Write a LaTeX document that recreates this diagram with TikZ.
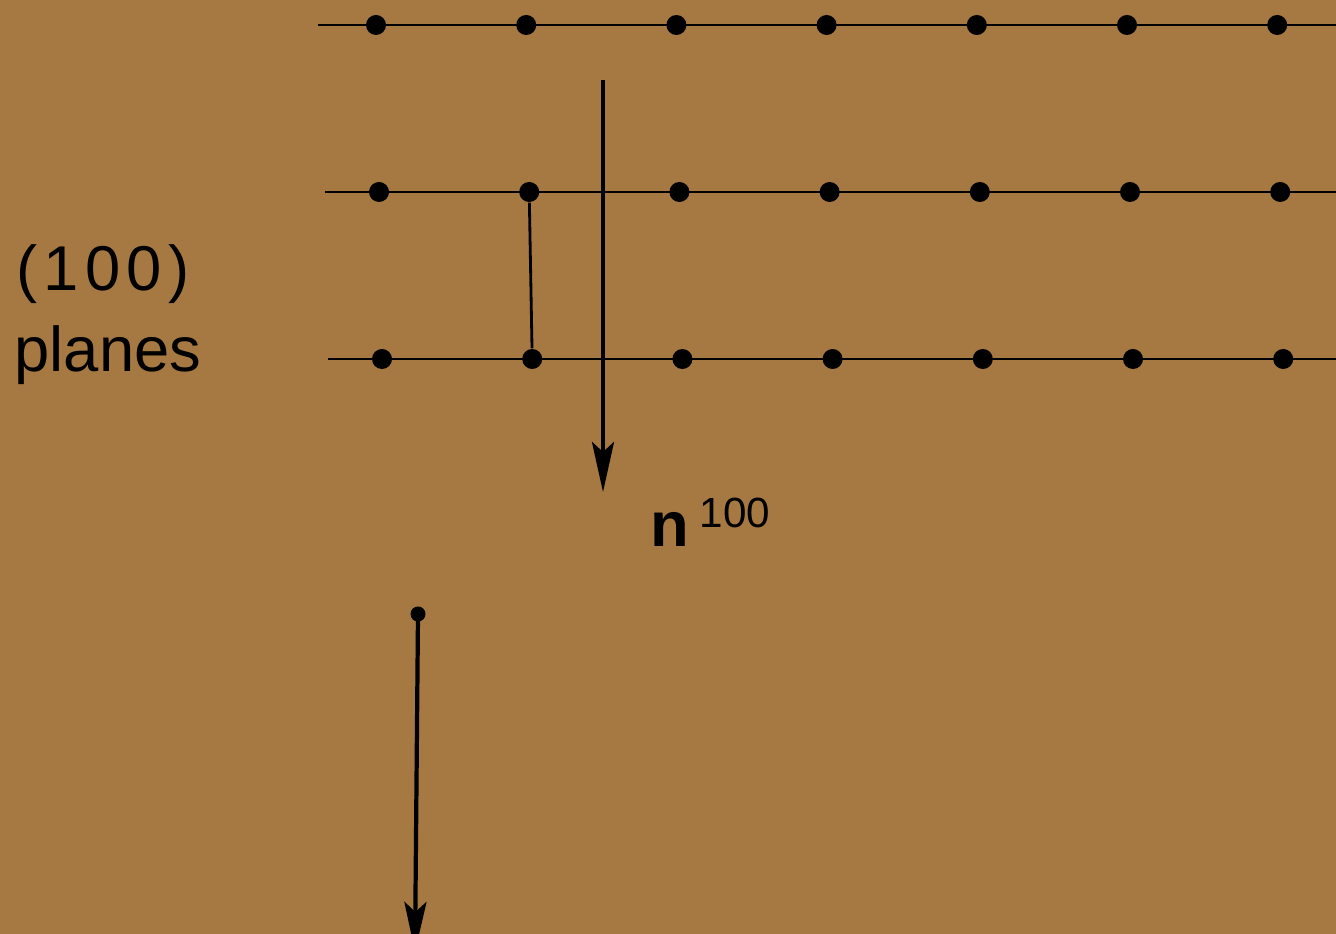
\documentclass[tikz,border=0pt]{standalone}
\usepackage{fontspec}
\setmainfont{Liberation Sans}
\usetikzlibrary{arrows.meta}
\definecolor{bronze}{RGB}{166,121,66}
\tikzset{
  atom/.style={circle, fill=black, inner sep=0pt, minimum size=0.2cm},
  plane/.style={line width=0.8pt},
  normal/.style={line width=1.2pt, -{Stealth[length=0.5cm,width=0.22cm,inset=0.1cm]}},
  label/.style={font=\fontsize{18}{20}\selectfont, inner sep=0pt},
}
\begin{document}
\begin{tikzpicture}[x=0.01cm, y=-0.01cm]
    % Background
    \fill[bronze] (0,0) rectangle (1336,934);
    \useasboundingbox (0,0) rectangle (1336,934);

    % Rows of atoms (100) planes
    \foreach \r/\y/\xs/\xl in {1/25/376/318, 2/192/379/325, 3/359/382/328}{
        \coordinate (L\r) at (\xl,\y);
        \coordinate (R\r) at (1336,\y);
        \draw[plane] (L\r) -- (R\r);
        \foreach \i in {0,...,6}{
            \node[atom] (a\r\i) at ({\xs+150.2*\i},\y) {};
        }
    }

    % Plane spacing
    \draw[plane] (a21) -- (a31);

    % Plane normal
    \coordinate (n0) at (603,80);
    \coordinate (n1) at (603,492);
    \draw[normal] (n0) -- (n1);
    \node[label, anchor=west] (nlab) at (650,522)
    {\bfseries n\,\raisebox{0.3em}{\mdseries\fontsize{12}{12}\selectfont 100}};

    % Second arrow
    \node[atom, minimum size=0.15cm] (b0) at (418,614) {};
    \coordinate (b1) at (415,952);
    \draw[normal] (b0.center) -- (b1);

    % Label
    \node[label] (hkl) at (103,274)
    {\addfontfeature{LetterSpace=10}(100)};
    \node[label] (planes) at (108,355) {planes};
\end{tikzpicture}
\end{document}
